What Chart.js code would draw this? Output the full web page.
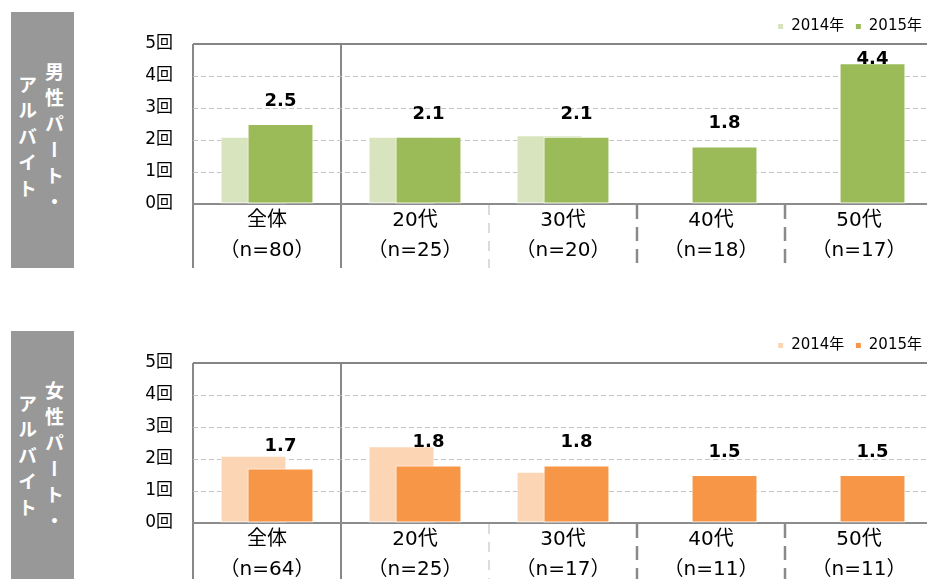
<!DOCTYPE html>
<html lang="ja">
<head>
<meta charset="utf-8">
<title>パート・アルバイト</title>
<script src="https://cdn.jsdelivr.net/npm/chart.js@4.4.1/dist/chart.umd.min.js"></script>
<style>
  html, body { margin: 0; padding: 0; overflow: hidden; background: #fff; }
  .panel { position: absolute; left: 0; width: 944px; height: 274px; }
  .side {
    position: absolute; left: 11px; width: 63px; height: 256px;
    background: #989898; color: #fff; z-index: 2;
    display: flex; align-items: center; justify-content: center;
    font: bold 19px "Noto Sans CJK JP", sans-serif;
  }
  .side span { writing-mode: vertical-rl; text-align: center; letter-spacing: 7px; line-height: 27px; margin-right: 3px; }
</style>
</head>
<body>
<div class="side" style="top:12px"><span>男性パート・<br>アルバイト</span></div>
<div class="panel" style="top:0"><canvas id="male"></canvas></div>
<div class="side" style="top:331px"><span>女性パート・<br>アルバイト</span></div>
<div class="panel" style="top:319px"><canvas id="female"></canvas></div>
<script>
const groups = ['全体', '20代', '30代', '40代', '50代'];
const years = ['2014年', '2015年'];

const maleN = [80, 25, 20, 18, 17];
const male2014 = [2.1, 2.1, 2.15, null, null];
const male2015 = [2.5, 2.1, 2.1, 1.8, 4.4];

const femaleN = [64, 25, 17, 11, 11];
const female2014 = [2.1, 2.4, 1.6, null, null];
const female2015 = [1.7, 1.8, 1.8, 1.5, 1.5];

const greens = ['#d7e4bd', '#9bbb59'];
const oranges = ['#fcd5b5', '#f79646'];

// separators between the age groups (below the axis only, except the first two)
const sepColor = ['#888', '#888', '#b8b8b8', '#8a8a8a', '#8a8a8a'];
const sepWidth = [2, 2, 1, 2.5, 2.5];
const sepDash = [[], [], [10, 8], [14, 8], [14, 8]];

Chart.defaults.font.family = '"DejaVu Sans", "Noto Sans CJK JP", sans-serif';
Chart.defaults.color = '#000';

// draw 2014 first so the 2015 bar sits in front of it, then the 2015 values
const drawBars = {
  id: 'drawBars',
  beforeDatasetsDraw(chart) {
    chart.getSortedVisibleDatasetMetas().forEach(meta => meta.controller.draw());
    const {ctx, chartArea} = chart;
    const values = chart.data.datasets[1].data;
    ctx.save();
    ctx.font = 'bold 18px "DejaVu Sans", sans-serif';
    ctx.fillStyle = '#000';
    ctx.textAlign = 'center';
    ctx.textBaseline = 'alphabetic';
    chart.getDatasetMeta(1).data.forEach((bar, i) => {
      if (values[i] == null) return;
      const y = Math.max(bar.y - 18, chartArea.top + 20);
      ctx.fillText(values[i].toFixed(1), bar.x, y);
    });
    ctx.restore();
    return false;
  }
};

function makeChart(id, n, d2014, d2015, colors) {
  return new Chart(document.getElementById(id), {
    type: 'bar',
    data: {
      labels: groups.map((g, i) => [g, '（n=' + n[i] + '）']),
      datasets: [
        { label: years[0], data: d2014, backgroundColor: colors[0] },
        { label: years[1], data: d2015, backgroundColor: colors[1] }
      ]
    },
    options: {
      responsive: true,
      maintainAspectRatio: false,
      animation: false,
      categoryPercentage: 0.365,
      barPercentage: 2.44,
      borderColor: '#fff',
      borderWidth: 1,
      borderSkipped: false,
      layout: { padding: { top: 8, right: 11, left: 0, bottom: 0 } },
      plugins: {
        tooltip: { enabled: false },
        legend: {
          position: 'top',
          align: 'end',
          labels: { boxWidth: 6, boxHeight: 6, padding: 11, font: { size: 15 } }
        }
      },
      scales: {
        x: {
          offset: true,
          afterFit: s => { s.height = 70; },
          grid: {
            offset: true,
            color: c => c.index < 2 ? '#888' : 'rgba(0,0,0,0)',
            lineWidth: 2,
            tickLength: 64,
            tickColor: c => sepColor[c.index] || '#888',
            tickWidth: c => sepWidth[c.index] || 2,
            tickBorderDash: c => sepDash[c.index] || []
          },
          border: { color: '#8c8c8c', width: 2 },
          ticks: {
            autoSkip: false,
            maxRotation: 0,
            padding: -62,
            font: { size: 20, lineHeight: '30px' }
          }
        },
        y: {
          min: 0,
          max: 5,
          afterFit: s => { s.width = 193; },
          grid: {
            drawTicks: false,
            color: c => c.tick.value === 5 ? '#858585' : '#c4c4c4',
            lineWidth: c => c.tick.value === 5 ? 2 : 1
          },
          border: { display: false, dash: c => c.tick.value === 5 ? [] : [5, 3] },
          ticks: {
            stepSize: 1,
            padding: 20,
            font: { size: 17 },
            callback: v => v + '回'
          }
        }
      }
    },
    plugins: [drawBars]
  });
}

makeChart('male', maleN, male2014, male2015, greens);
makeChart('female', femaleN, female2014, female2015, oranges);
</script>
</body>
</html>
